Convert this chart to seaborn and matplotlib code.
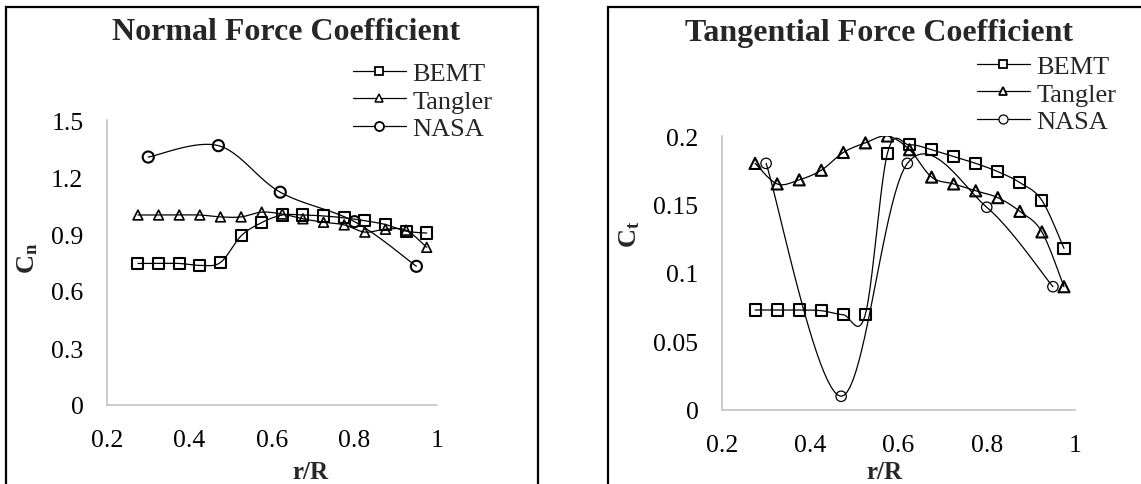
import numpy as np
import pandas as pd
import matplotlib
matplotlib.use("Agg")
import matplotlib.pyplot as plt
import seaborn as sns
from matplotlib.lines import Line2D
from matplotlib.patches import Rectangle

# ---------------- data ----------------
r_model = [0.275, 0.325, 0.375, 0.425, 0.475, 0.525, 0.575, 0.625,
           0.675, 0.725, 0.775, 0.825, 0.875, 0.925, 0.975]
r_nasa = [0.30, 0.47, 0.62, 0.80, 0.95]

cn_bemt = [0.745, 0.745, 0.745, 0.735, 0.75, 0.89, 0.96, 1.0, 1.0, 0.995,
           0.985, 0.97, 0.95, 0.915, 0.905]
cn_tangler = [1.0, 1.0, 1.0, 1.0, 0.99, 0.99, 1.015, 1.005, 0.98, 0.962,
              0.948, 0.91, 0.925, 0.92, 0.83]
cn_nasa = [1.305, 1.365, 1.12, 0.965, 0.73]

ct_bemt = [0.073, 0.073, 0.073, 0.0725, 0.0695, 0.07, 0.1875, 0.1935, 0.19,
           0.185, 0.18, 0.174, 0.166, 0.153, 0.118]
ct_tangler = [0.18, 0.165, 0.168, 0.175, 0.188, 0.195, 0.2, 0.19, 0.17,
              0.165, 0.16, 0.155, 0.145, 0.13, 0.09]
ct_nasa = [0.18, 0.01, 0.18, 0.148, 0.09]

series_names = ["BEMT", "Tangler", "NASA"]
cn_yticks = [0, 0.3, 0.6, 0.9, 1.2, 1.5]
ct_yticks = [0, 0.05, 0.1, 0.15, 0.2]
ct_yticklabels = ["0", "0.05", "0.1", "0.15", "0.2"]
x_ticks = [0.2, 0.4, 0.6, 0.8, 1.0]
x_ticklabels = ["0.2", "0.4", "0.6", "0.8", "1"]

# ---------------- style ----------------
sns.set_theme(style="white")
plt.rcParams["font.family"] = ["Liberation Serif", "DejaVu Serif"]
plt.rcParams["mathtext.fontset"] = "custom"
plt.rcParams["mathtext.rm"] = "Liberation Serif"
plt.rcParams["mathtext.bf"] = "Liberation Serif:bold"

W, H = 1141, 485
fig = plt.figure(figsize=(W / 100, H / 100), dpi=100)


def fx(px):
    return px / W


def fy(py):
    return 1 - py / H


def smooth(x, y, n=24):
    P = np.column_stack([x, y]).astype(float)
    out = [P[0]]
    t = np.linspace(0, 1, n)[1:, None]
    for i in range(len(P) - 1):
        p0 = P[i - 1] if i > 0 else P[i]
        p1, p2 = P[i], P[i + 1]
        p3 = P[i + 2] if i + 2 < len(P) else P[i + 1]
        c1 = p1 + (p2 - p0) / 6
        c2 = p2 - (p3 - p1) / 6
        B = (1 - t) ** 3 * p1 + 3 * (1 - t) ** 2 * t * c1 + 3 * (1 - t) * t ** 2 * c2 + t ** 3 * p2
        out.extend(B)
    return np.array(out)


# outer chart boxes
for x0, x1 in [(6, 538), (608, 1160)]:
    fig.add_artist(Rectangle((fx(x0), fy(500)), fx(x1) - fx(x0), fy(8) - fy(500),
                             transform=fig.transFigure, fill=False,
                             edgecolor="black", linewidth=1.6, clip_on=False))

markers = {"BEMT": "s", "Tangler": "^", "NASA": "o"}


def draw_panel(ax, xs_list, ys_list, msizes, mews, ylim, yticks, yticklabels):
    for name, xs, ys, ms, mew in zip(series_names, xs_list, ys_list, msizes, mews):
        sm = smooth(xs, ys)
        sns.lineplot(x=sm[:, 0], y=sm[:, 1], sort=False, estimator=None,
                     color="black", linewidth=0.9, ax=ax, zorder=2)
        sns.scatterplot(x=xs, y=ys, marker=markers[name], s=ms ** 2,
                        facecolor="none", edgecolor="black", linewidth=mew,
                        ax=ax, zorder=3)
    ax.set_xlim(0.2, 1.0)
    ax.set_ylim(*ylim)
    ax.set_xticks(x_ticks)
    ax.set_xticklabels(x_ticklabels)
    ax.set_yticks(yticks)
    ax.set_yticklabels(yticklabels)
    ax.tick_params(axis="both", length=0, labelsize=18.5, colors="black")
    ax.tick_params(axis="y", pad=17)
    ax.tick_params(axis="x", pad=17)
    for s in ["top", "right"]:
        ax.spines[s].set_visible(False)
    for s in ["left", "bottom"]:
        ax.spines[s].set_color("#BFBFBF")
        ax.spines[s].set_linewidth(1.1)
    ax.grid(False)
    ax.set_xlabel("")
    ax.set_ylabel("")
    ax.patch.set_alpha(0)


# left panel
axL = fig.add_axes([fx(107), 1 - 406 / H, (437 - 107) / W, (406 - 121) / H])
draw_panel(axL, [r_model, r_model, r_nasa], [cn_bemt, cn_tangler, cn_nasa],
           [8, 7, 8], [1.5, 1.2, 1.5], (0, 1.5), cn_yticks,
           [f"{v:g}" for v in cn_yticks])

# right panel
axR = fig.add_axes([fx(722), 1 - 411 / H, (1075 - 722) / W, (411 - 137) / H])
draw_panel(axR, [r_model, r_model, r_nasa], [ct_bemt, ct_tangler, ct_nasa],
           [8, 8, 7.5], [1.5, 1.5, 0.9], (0, 0.2), ct_yticks, ct_yticklabels)

# titles
fig.text(fx(286), fy(33), "Normal Force Coefficient", ha="center", va="center",
         fontsize=23, fontweight="bold")
fig.text(fx(879), fy(33), "Tangential Force Coefficient", ha="center", va="center",
         fontsize=23, fontweight="bold")

# axis labels
fig.text(fx(310), fy(479), "r/R", ha="center", va="baseline", fontsize=18, fontweight="bold")
fig.text(fx(884), fy(479), "r/R", ha="center", va="baseline", fontsize=18, fontweight="bold")
fig.text(fx(28), fy(258), r"$\mathbf{C_n}$", ha="center", va="center", fontsize=19,
         rotation=90)
fig.text(fx(630), fy(234), r"$\mathbf{C_t}$", ha="center", va="center", fontsize=19,
         rotation=90)

# legends
def legend_handles(sizes, mews):
    return [Line2D([0], [0], color="black", linewidth=0.9, marker=markers[n],
                   markersize=sz, markerfacecolor="white", markeredgecolor="black",
                   markeredgewidth=mw)
            for n, sz, mw in zip(series_names, sizes, mews)]


for (lx, ly), sizes, mews in [((353, 63), [6, 6, 6.5], [1.3, 1.1, 1.3]),
                             ((977, 56), [6, 6, 6.5], [1.3, 1.3, 0.9])]:
    fig.legend(handles=legend_handles(sizes, mews), labels=series_names,
               loc="upper left", bbox_to_anchor=(fx(lx), fy(ly)),
               bbox_transform=fig.transFigure, frameon=False, fontsize=19,
               handlelength=2.0, handletextpad=0.25, labelspacing=0.14,
               borderpad=0, borderaxespad=0)

fig.savefig("out.png", dpi=100)
